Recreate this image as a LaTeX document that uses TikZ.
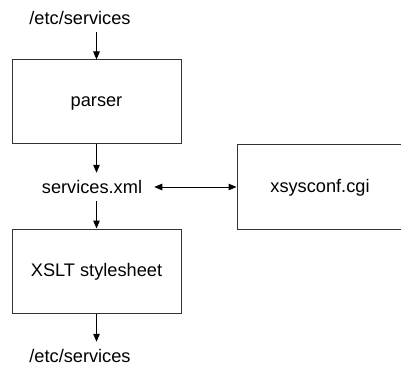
\documentclass[tikz,border=0pt]{standalone}
\usepackage{fontspec}
\setmainfont{Liberation Sans}
\usetikzlibrary{arrows.meta}
\begin{document}
\begin{tikzpicture}[x=1pt,y=-1pt,
  every node/.style={font=\fontsize{18.2}{20}\selectfont},
  box/.style={draw=black!80,line width=1pt,minimum width=169pt,minimum height=84pt,inner sep=0pt,text height=13pt,text depth=3pt},
  lbl/.style={minimum height=28pt,inner sep=0pt},
  tip/.tip={Triangle[length=8pt,width=6.5pt]},
  arr/.style={-tip,line width=1pt,draw=black}]
\useasboundingbox (0,0) rectangle (401,366);
\clip (0,0) rectangle (401,366);
\node[lbl] (top) at (80,18) {/etc/services};
\node[box] (parser) at (96.5,102) {parser};
\node[lbl] (sx) at (92,187) {services.xml};
\node[box] (xslt) at (96.5,271) {XSLT stylesheet};
\node[lbl] (bot) at (80,356) {/etc/services};
\node[box,minimum width=166pt] (cgi) at (320,187) {xsysconf.cgi};
\draw[arr] (parser.north |- top.south) -- (parser.north);
\draw[arr] (parser.south) -- (parser.south |- sx.north);
\draw[arr] (xslt.north |- sx.south) -- (xslt.north);
\draw[arr] (xslt.south) -- (xslt.south |- bot.north);
\draw[arr,tip-tip] ([xshift=12pt]sx.east) -- (cgi.west);
\end{tikzpicture}
\end{document}
